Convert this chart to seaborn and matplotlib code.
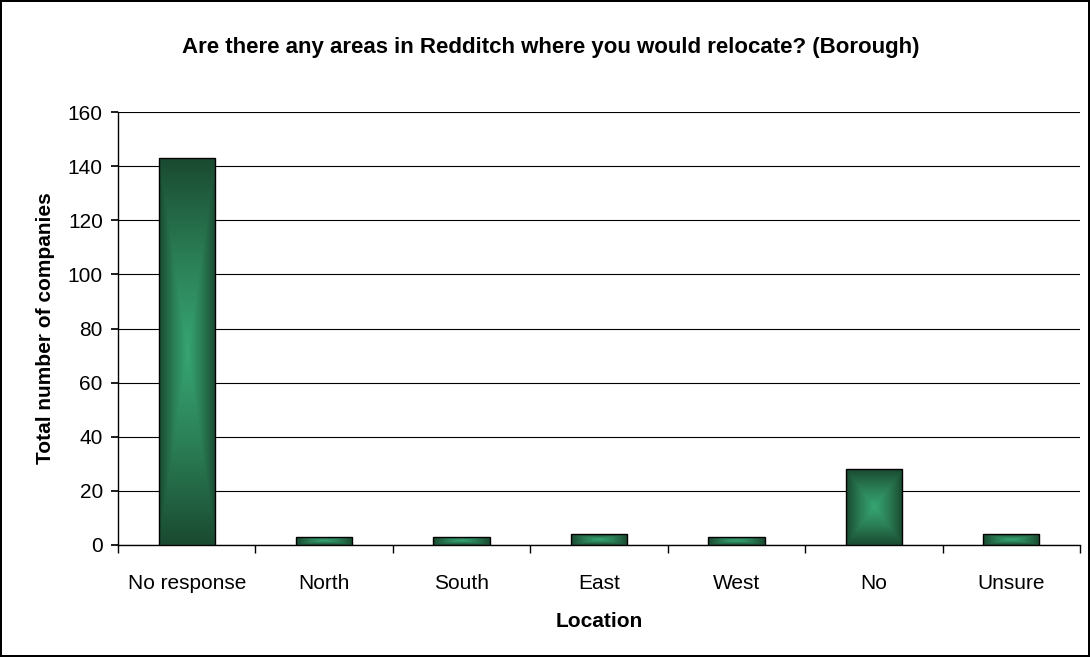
import numpy as np
import pandas as pd
import seaborn as sns
import matplotlib.pyplot as plt
from matplotlib.colors import LinearSegmentedColormap

locations = ['No response', 'North', 'South', 'East', 'West', 'No', 'Unsure']
companies = [143, 3, 3, 4, 3, 28, 4]

df = pd.DataFrame({'Location': locations, 'Total': companies})

sns.set_theme(style='white')
plt.rcParams['font.family'] = ['Liberation Sans', 'DejaVu Sans']
plt.rcParams['text.color'] = 'black'
plt.rcParams['axes.labelcolor'] = 'black'
plt.rcParams['xtick.color'] = 'black'
plt.rcParams['ytick.color'] = 'black'

fig = plt.figure(figsize=(10.9, 6.57), dpi=100)
ax = fig.add_axes([0.1083, 0.1705, 0.8825, 0.659])

sns.barplot(data=df, x='Location', y='Total', color='#1c4f35', width=0.41,
            edgecolor='black', linewidth=1, ax=ax, zorder=3)

# "from centre" gradient fill clipped to each bar
cmap = LinearSegmentedColormap.from_list('grn', ['#37a673', '#2a7d55', '#1a4a31'])
n = 200
yy, xx = np.mgrid[-1:1:n * 1j, -1:1:n * 1j]
t = np.maximum(np.abs(xx), np.abs(yy))
for p in ax.patches:
    x0, y0 = p.get_x(), p.get_y()
    w, h = p.get_width(), p.get_height()
    im = ax.imshow(t, cmap=cmap, extent=[x0, x0 + w, y0, y0 + h], aspect='auto',
                   origin='lower', zorder=3, vmin=0, vmax=1, interpolation='bilinear')
    im.set_clip_path(p)
    p.set_facecolor('none')
    p.set_zorder(4)

ax.set_xlim(-0.5, 6.5)
ax.set_ylim(0, 160)
ax.set_yticks(range(0, 161, 20))
ax.yaxis.grid(True, color='black', linewidth=0.8)
ax.set_axisbelow(True)
for s in ['top', 'right']:
    ax.spines[s].set_visible(False)
for s in ['left', 'bottom']:
    ax.spines[s].set_color('black')
    ax.spines[s].set_linewidth(1)

ax.set_xticks(np.arange(-0.5, 7, 1), minor=True)
ax.tick_params(axis='x', which='major', length=0, pad=21, labelsize=15)
ax.tick_params(axis='x', which='minor', length=6, direction='out', color='black', bottom=True)
ax.tick_params(axis='y', length=5, direction='out', color='black', left=True, labelsize=15, pad=6)

ax.set_xlabel('Location', fontsize=15, fontweight='bold')
ax.xaxis.set_label_coords(0.5, -0.155)
ax.set_ylabel('Total number of companies', fontsize=15, fontweight='bold')
ax.yaxis.set_label_coords(-0.066, 0.5)
fig.text(0.505, 0.928, 'Are there any areas in Redditch where you would relocate? (Borough)',
         ha='center', va='center', fontsize=16, fontweight='bold')

fig.patch.set_edgecolor('black')
fig.patch.set_linewidth(1.5)

fig.savefig('out.png', dpi=100, edgecolor=fig.get_edgecolor())
